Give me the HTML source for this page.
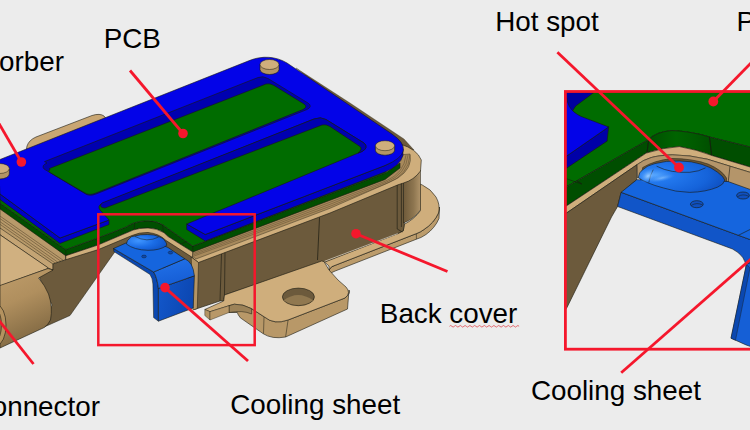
<!DOCTYPE html>
<html><head><meta charset="utf-8"><title>Cooling sheet</title>
<style>
html,body{margin:0;padding:0;background:#ececec;}
body{width:750px;height:430px;overflow:hidden;}
svg{display:block;}
text{font-family:"Liberation Sans", Arial, sans-serif;font-size:27.8px;fill:#000;}
</style></head><body>
<svg width="750" height="430" viewBox="0 0 750 430">
<rect width="750" height="430" fill="#ececec"/>
<g id="main">
<path d="M26,152 L27,146 Q29,140 36,137 L92,115.5 Q100,113 104,116 L108,121 L60,145 Z" fill="#c9a673" stroke="#1a1a10" stroke-width="0.6" stroke-linejoin="round" />
<path d="M296,68 L350,103 L404,139 L414,150 L402,152 Z" fill="#6c5a3c" stroke="#1a1a10" stroke-width="0.3" stroke-linejoin="round" />
<path d="M0,205 L65.8,255.7 L65.8,259.7 L53,264 L53,270 L48,268 L0,234.8 Z" fill="#b89a6a" stroke="#1a1a10" stroke-width="0.5" stroke-linejoin="round" />
<path d="M0,216.1 L63.5,260.5" stroke="#5e4c30" stroke-width="0.6" fill="none"/>
<path d="M0,218.6 L61,261.3" stroke="#5e4c30" stroke-width="0.6" fill="none"/>
<path d="M0,221.7 L58,262.3" stroke="#5e4c30" stroke-width="0.6" fill="none"/>
<path d="M0,224.3 L55.5,263.2" stroke="#5e4c30" stroke-width="0.6" fill="none"/>
<path d="M0,228 L53,264 L53,270 L48,268 L0,234.8 Z" fill="#c4a474" stroke="#1a1a10" stroke-width="0.5" stroke-linejoin="round" />
<path d="M0,234.8 L48,267.7 L48,268.5 L0,286 Z" fill="#d0b080" stroke="#1a1a10" stroke-width="0.6" stroke-linejoin="round" />
<path d="M39.3,277.3 L48,270.5 L53,270 L53,264 L65.8,259.7 L65.8,255.7 L98.7,246.7 L124.7,235.3 L135,231 L160,233 L192.5,256 L193,280 L150,262 L113.5,248.5 L115.5,250.9 L70,315.5 L44.2,327 L52,305 Z" fill="#6c5a3c" stroke="#1a1a10" stroke-width="0.5" stroke-linejoin="round" />
<defs><linearGradient id="cyl" x1="0" y1="0" x2="0.3" y2="1"><stop offset="0" stop-color="#bf9d6b"/><stop offset="0.45" stop-color="#b08f5e"/><stop offset="1" stop-color="#806842"/></linearGradient></defs>
<path d="M0,285.5 L48,268.5 L53,270 L38.6,278 Q45,285.5 48.5,294 Q53,307 50.5,320 Q48,325 44.2,327.5 L0,348 Z" fill="url(#cyl)" stroke="#1a1a10" stroke-width="0.6" stroke-linejoin="round" />
<ellipse cx="-3" cy="325" rx="9" ry="20" fill="#b4925f" stroke="#1a1a10" stroke-width="0.6"/>
<ellipse cx="-4" cy="325" rx="5.5" ry="15" fill="#8c7048" stroke="#1a1a10" stroke-width="0.5"/>
<defs><linearGradient id="col" x1="0" y1="0" x2="1" y2="0"><stop offset="0" stop-color="#6e5a3a"/><stop offset="0.6" stop-color="#8e7650"/><stop offset="1" stop-color="#b0946a"/></linearGradient></defs>
<path d="M438.5,213 Q434,223 424,229.5 Q420,232.5 416.4,233.6 L335.2,265.3 Q331,266 329,270 L329,275.5 Q331,272 335.2,271 L416.4,239.2 Q421,238 426,234.5 Q435,228 439,218.5 L439.5,207 Z" fill="#bc9c6c" stroke="#1a1a10" stroke-width="0.6" stroke-linejoin="round" />
<path d="M416.4,233.6 L416.4,239.2" stroke="#1a1a10" stroke-width="0.5"/>
<path d="M420,184 L422.3,185 Q431,189 436,197 Q440.5,205 438.5,213 Q434,223 424,229.5 Q420,232.5 416.4,233.6 L335.2,265.3 Q331,266 329,270 L329,266 L324,261.6 L397.7,233.6 L403.3,230.8 L404.3,224.3 Q414.5,219 420.1,211 Z" fill="#cfae7c" stroke="#1a1a10" stroke-width="0.6" stroke-linejoin="round" />
<path d="M193,258 L398,184 L403.5,182 L404.3,224.3 L403.3,230.8 L397.7,233.6 L325,262 L224.5,295 L223.7,301 L220,301 L194.5,309.5 Z" fill="#6c5a3c" stroke="#1a1a10" stroke-width="0.6" stroke-linejoin="round" />
<path d="M324.5,261.3 L397.7,233.6" stroke="#e8e0d0" stroke-width="0.7" fill="none"/>
<path d="M403.5,182 Q414,180 420.5,170 L420.5,210 Q414,219 403.5,223 Z" fill="url(#col)" stroke="#1a1a10" stroke-width="0.5" stroke-linejoin="round" />
<path d="M192.8,250 L385,175 Q396,168 398,155 L400,144 Q417,149 421.3,160 L420.5,171 Q414,180 403.5,183 L398,184.8 L330,213 L198.5,262.5 L191.2,257 Z" fill="#cfae7c" stroke="#1a1a10" stroke-width="0.6" stroke-linejoin="round" />
<path d="M192.8,250 L385,175 Q396,168 398,155 L410,154 Q413,168 398,178 L389,182.5 L330,208.3 L196,259 L192.5,256.5 Z" fill="#a88a5c" stroke="#1a1a10" stroke-width="0.4" stroke-linejoin="round" />
<path d="M193.5,253.4 L330,202.3 L386,180.9 Q404.2,173.2 406.0,155" stroke="#5e4c30" stroke-width="0.5" fill="none"/>
<path d="M193.5,254.8 L330,204.3 L386,182.3 Q406.4,174.4 408.0,155" stroke="#5e4c30" stroke-width="0.5" fill="none"/>
<path d="M193.5,256.2 L330,206.3 L386,183.7 Q408.6,175.6 410.0,155" stroke="#5e4c30" stroke-width="0.5" fill="none"/>
<path d="M319.5,217.5 L317.5,260" stroke="#1a1a10" stroke-width="0.7" fill="none"/>
<path d="M397.2,185 L397.2,229 L402.4,232 M401.4,183.5 L401.4,227" stroke="#1a1a10" stroke-width="0.6" fill="none"/>
<path d="M221.5,254 L220,301 M225,252.7 L224.5,295" stroke="#1a1a10" stroke-width="0.6" fill="none"/>
<path d="M191.2,257 L198.5,262.5 L197.3,308.5 L193,310 Z" fill="#b39464" stroke="#1a1a10" stroke-width="0.5" stroke-linejoin="round" />
<path d="M229,305.7 Q243,304 251.6,308.7 L264.5,317 Q274,325 288,320 L345,298 Q351,293 349,290 L347.5,309 L285.6,337 Q272,339.5 263,333.6 L240.3,317.8 Q237.5,314 237.3,312.5 L229,312.5 Z" fill="#b89868" stroke="#1a1a10" stroke-width="0.6" stroke-linejoin="round" />
<path d="M288,320.5 L285.6,337 M264,317 L263.5,333.6" stroke="#1a1a10" stroke-width="0.5"/>
<path d="M224.5,295 L321.7,261 L324,261.6 L329,270 L338,280 L346,287 Q351.5,293 345,298 L288,320 Q274,325 264.5,317 L251.6,308.7 Q243,304 234.3,304.2 L229,305.7 L210,311.7 L204.8,309.5 L223.7,301 Z" fill="#cfae7c" stroke="#1a1a10" stroke-width="0.6" stroke-linejoin="round" />
<path d="M229,305.7 L234.3,304.2 Q243,304 251.6,308.7 L251.6,314 Q243,310 229,312.5 Z" fill="#9c8258" stroke="#1a1a10" stroke-width="0.5" stroke-linejoin="round" />
<path d="M204.8,309.5 L204.8,315.5 L210,320 L210,311.7 Z" fill="#b39464" stroke="#1a1a10" stroke-width="0.4" stroke-linejoin="round" />
<path d="M210,311.7 L229,305.7 L229,312.5 L210,320 Z" fill="#b89868" stroke="#1a1a10" stroke-width="0.4" stroke-linejoin="round" />
<ellipse cx="298.4" cy="296.9" rx="16" ry="8.8" fill="#6c5a3c" stroke="#1a1a10" stroke-width="0.6"/>
<path d="M283.5,300.5 Q298,289.5 313.3,300.5 Q298,309.5 283.5,300.5Z" fill="#a88c5e" opacity="0.6"/>
<path d="M0,203 L65.8,249.5 L99,237.5 L126,227 Q130,224 134.7,222.7 Q141,220.7 148,220.7 Q157,221 162.7,224.7 L168,228.5 L192.8,246 L385,173 L400,163 L400,168 L385,179.5 L192.8,252 L168,236.5 L164,232.7 Q157,228.3 148,228 Q139,228 133.3,230 L98,245 L65.8,255.7 L0,209 Z" fill="#004e00" stroke="#1a1a10" stroke-width="0.6" stroke-linejoin="round" />
<path d="M0,170 L260,70 L396,150 L396,160 L385,173 L192.8,246 L168,228.5 L162.7,224.7 Q157,221 148,220.7 Q141,220.7 134.7,222.7 Q130,224 126,227 L99,237.5 L65.8,249.5 L0,203 Z" fill="#006c00" stroke="#1a1a10" stroke-width="0.6" stroke-linejoin="round" />
<path d="M134.7,222.7 L134.2,229.8 M162.7,224.7 L163.3,232.2 M192.8,246 L192.8,252 M65.8,249.5 L65.8,255.7" stroke="#1a1a10" stroke-width="0.5"/>
<path d="M186.5,241.5 L180,244.5 L187,249" stroke="#1a1a10" stroke-width="0.5" fill="none"/>
<path d="M65.8,255.7 L98,245 L133.3,230 Q139,228 148,228 Q157,228.3 164,232.7 L168,236.5 L192.8,252 L192.5,257.5 L166,240.5 Q159,233.5 148,232.5 Q139,232.3 132,235.5 L98.5,249.5 L65.8,259.7 Z" fill="#cfae7c" stroke="#1a1a10" stroke-width="0.6" stroke-linejoin="round" />
<path d="M0,194 L60,238 L109,220 L109,224.5 L60,243.5 L0,199.5 Z" fill="#0000c8" stroke="#1a1a10" stroke-width="0.6" stroke-linejoin="round" />
<path d="M186.7,224 L205.3,234.5 L385,165.5 Q400,159 403,149 L403,155.5 Q400,166 385,172 L205.3,241 L186.7,229.5 Z" fill="#0000c8" stroke="#1a1a10" stroke-width="0.6" stroke-linejoin="round" />
<path d="M-2,160.3 L250,60.3 C262,55.5 276,56.3 287,63 L392,134 Q418,152 385,165.5 L205.3,234.5 L186.7,224 L362,151.5 Q369,147 364,143 L326,119.5 Q321,116.5 314,119 L102,203.5 Q97,206 100,210 L109,220 L60,238 L0,194 Z" fill="#0303e8" stroke="#1a1a10" stroke-width="0.6" stroke-linejoin="round" />
<path d="M44.5,161.6 L258,77.5 Q263,75.5 268,78.5 L308,103 Q313,106.5 307,109.5 L96,194 Q89,197 84,193 L44,169 Q41,165.5 47,163 Z" fill="#0000b0" stroke="#1a1a10" stroke-width="0.6" stroke-linejoin="round" />
<path d="M49.5,168.5 L266,84 Q270,83 274,85.5 L304,104 Q308,107 303,109.5 L96,193 Q89,196 84,192.5 L50,172.5 Q47,171 50,170Z" fill="#006c00" stroke="#1a1a10" stroke-width="0.6" stroke-linejoin="round" />
<path d="M102,203 L314,119 Q321,116.5 326,119.5 L364,143 Q369,148 362,151.5 L358,153 Q363,149 360,146.5 L330,126.5 Q326,124 322,125 L105,208 Q98,207.5 102,203Z" fill="#0000b0" stroke="#1a1a10" stroke-width="0.6" stroke-linejoin="round" />
<path d="M260.0,64.5 L260.0,69.5 A9.5,5 0 0 0 279.0,69.5 L279.0,64.5 Z" fill="#b39464" stroke="#1a1a10" stroke-width="0.6" stroke-linejoin="round" />
<ellipse cx="269.5" cy="64.5" rx="9.5" ry="5" fill="#cfae7c" stroke="#1a1a10" stroke-width="0.5"/>
<path d="M375.4,145.7 L375.4,150.2 A9.6,5 0 0 0 394.6,150.2 L394.6,145.7 Z" fill="#b39464" stroke="#1a1a10" stroke-width="0.6" stroke-linejoin="round" />
<ellipse cx="385" cy="145.7" rx="9.6" ry="5" fill="#cfae7c" stroke="#1a1a10" stroke-width="0.5"/>
<path d="M-9.9,168.5 L-9.9,174.0 A9.6,5 0 0 0 9.299999999999999,174.0 L9.299999999999999,168.5 Z" fill="#b39464" stroke="#1a1a10" stroke-width="0.6" stroke-linejoin="round" />
<ellipse cx="-0.3" cy="168.5" rx="9.6" ry="5" fill="#cfae7c" stroke="#1a1a10" stroke-width="0.5"/>
<defs><linearGradient id="csv" x1="0" y1="0" x2="1" y2="0.3"><stop offset="0" stop-color="#1358cc"/><stop offset="1" stop-color="#0c47b2"/></linearGradient>
<linearGradient id="csb" x1="0" y1="0" x2="0.3" y2="1"><stop offset="0" stop-color="#2273ea"/><stop offset="1" stop-color="#155cd4"/></linearGradient>
<radialGradient id="dome" cx="0.3" cy="0.4" r="0.8"><stop offset="0" stop-color="#3f95ff"/><stop offset="0.5" stop-color="#1a6ce6"/><stop offset="1" stop-color="#0e50c2"/></radialGradient></defs>
<path d="M113.5,248.5 L113.8,251.5 L150,274.5 Q152.5,278 152.9,284 L153.6,317.6 L158.4,321.2 L158.4,288.5 Q157,277 153.6,272 Z" fill="#0b48b0" stroke="#1a1a10" stroke-width="0.5" stroke-linejoin="round" />
<path d="M158.4,288.5 L194.4,275.8 L193.2,308 L158.4,321.2 Z" fill="url(#csv)" stroke="#1a1a10" stroke-width="0.6" stroke-linejoin="round" />
<path d="M153.6,272 L184.8,258.8 Q193,262 194.4,275.8 L158.4,288.5 Q157,277 153.6,272 Z" fill="url(#csb)" stroke="#1a1a10" stroke-width="0.6" stroke-linejoin="round" />
<path d="M113.5,248.5 L126,243 L150,240 L168,247.5 L184.8,258.8 L153.6,272 Z" fill="#1565de" stroke="#1a1a10" stroke-width="0.6" stroke-linejoin="round" />
<path d="M126.4,244 Q127,240 129.5,238.5 Q131,236 134.7,236 Q140,234.3 147.3,234.5 Q155,234.5 158.7,236.5 Q164,238 165,241 Q167,243 166.7,245.5 Q160,250.5 148,250.3 Q134,250 126.4,244 Z" fill="url(#dome)" stroke="#1a1a10" stroke-width="0.6" stroke-linejoin="round" />
<path d="M134.7,236.3 Q147,243 158.7,237" stroke="#1a1a10" stroke-width="0.5" fill="none"/>
<ellipse cx="144" cy="256.5" rx="2.3" ry="1.4" fill="#0b48b0" stroke="#1a1a10" stroke-width="0.4"/>
<ellipse cx="170.5" cy="252.6" rx="2.3" ry="1.4" fill="#0b48b0" stroke="#1a1a10" stroke-width="0.4"/>
</g>
<rect x="98.3" y="214.3" width="156.4" height="130.8" fill="none" stroke="#f5172c" stroke-width="2.5"/>
<line x1="130" y1="70.5" x2="183" y2="133.5" stroke="#f5172c" stroke-width="2.8"/>
<circle cx="183" cy="133.5" r="4.8" fill="#f5172c"/>
<line x1="-3" y1="120" x2="21.4" y2="162" stroke="#f5172c" stroke-width="2.8"/>
<circle cx="21.4" cy="162" r="4.8" fill="#f5172c"/>
<line x1="248" y1="361" x2="165" y2="287.6" stroke="#f5172c" stroke-width="2.8"/>
<circle cx="165" cy="287.6" r="4.8" fill="#f5172c"/>
<line x1="447.5" y1="271.5" x2="356" y2="233.7" stroke="#f5172c" stroke-width="2.8"/>
<circle cx="356" cy="233.7" r="4.8" fill="#f5172c"/>
<line x1="33.5" y1="364" x2="-3" y2="318" stroke="#f5172c" stroke-width="2.8"/>
<defs><clipPath id="rc"><rect x="565.4" y="91.5" width="200" height="257.7"/></clipPath></defs>
<g clip-path="url(#rc)">
<path d="M560,85 L760,85 L760,150 L750,147 L709.5,137 Q692,131.5 671.5,130.6 Q656,132 648.7,139.5 L560,190.5 Z" fill="#006c00" stroke="#1a1a10" stroke-width="0.6" stroke-linejoin="round" />
<path d="M560,190.5 L648.7,139.5 Q656,132 671.5,130.6 Q692,131.5 709.5,137 L760,149.5 L760,170 L750,167 L712.5,155.7 Q697,149.6 679.3,146.6 Q663.6,147.5 646.2,153.1 L560,210.2 Z" fill="#004e00" stroke="#1a1a10" stroke-width="0.6" stroke-linejoin="round" />
<defs><linearGradient id="pg" x1="0" y1="0" x2="1" y2="0"><stop offset="0" stop-color="#004e00"/><stop offset="0.45" stop-color="#006400"/><stop offset="0.75" stop-color="#005a00"/><stop offset="1" stop-color="#004e00"/></linearGradient></defs>
<path d="M648.7,139.5 Q656,132 671.5,130.6 Q692,131.5 709.5,137 L711.8,155.5 Q697,149.6 679.3,146.6 Q663.6,147.5 647,152.8 Z" fill="url(#pg)" stroke="#1a1a10" stroke-width="0.5" stroke-linejoin="round" />
<path d="M648.7,139.5 L647,152.5 M709.5,137 L711.5,155.3 M566,178.6 L581.8,184 L577,180.5" stroke="#1a1a10" stroke-width="0.6" fill="none"/>
<path d="M560,210.2 L646.2,153.1 Q663.6,147.5 679.3,146.6 Q697,149.6 712.5,155.7 L760,170 L760,176 L750,172.3 L730,166.2 L707.3,159.2 Q690,155 672.4,154.8 Q658,155.5 651.4,157.5 Q643,160 636.8,164.8 L560,217.5 Z" fill="#cfae7c" stroke="#1a1a10" stroke-width="0.6" stroke-linejoin="round" />
<path d="M636.8,164.8 Q643,160 651.4,157.5 Q658,155.5 672.4,154.8 Q690,155 707.3,159.2 L730,166.2 L750,172.3 L760,176 L760,195 L728,182 L637.5,178 Z" fill="#b4956a" stroke="#1a1a10" stroke-width="0.5" stroke-linejoin="round" />
<path d="M642.7,167.5 Q654,160.5 672,158.5 Q692,158.5 708,164 Q722,170 726.5,178 L726.5,184 L640,182 Z" fill="#6b5636" stroke="#1a1a10" stroke-width="0.5" stroke-linejoin="round" />
<path d="M730,166.2 L728.2,182" stroke="#1a1a10" stroke-width="0.6" fill="none"/>
<path d="M560,217.5 L636.8,164.8 L636.8,179.7 L621.1,192.8 L617.6,206.5 L611.5,217 L567,307.5 L560,318 Z" fill="#6c5a3c" stroke="#1a1a10" stroke-width="0.6" stroke-linejoin="round" />
<path d="M621.1,192.3 L738.4,235.3 L760,243 L760,270 L746.5,270 Q746.5,256 732.5,249 L617.6,206.5 Z" fill="#1155c8" stroke="#1a1a10" stroke-width="0.6" stroke-linejoin="round" />
<path d="M746.5,264 L760,260 L760,350 L746,344.9 L731,338.2 Z" fill="#155fd6" stroke="#1a1a10" stroke-width="0.6" stroke-linejoin="round" />
<path d="M746.5,264 L731,338.2 L735.5,340.3 L750,268 Z" fill="#0b48b0" stroke="#1a1a10" stroke-width="0.4" stroke-linejoin="round" />
<path d="M621.1,192.3 L636.8,179.7 L728,181.5 L760,193 L760,243.2 L738.4,235.3 Z" fill="#1565de" stroke="#1a1a10" stroke-width="0.6" stroke-linejoin="round" />
<path d="M738.4,235.3 L752,228.5" stroke="#1a1a10" stroke-width="0.6" fill="none"/>
<defs><radialGradient id="dome2" cx="0.18" cy="0.45" r="0.9"><stop offset="0" stop-color="#58a8ff"/><stop offset="0.25" stop-color="#2278ee"/><stop offset="0.7" stop-color="#1563da"/><stop offset="1" stop-color="#0d4cbc"/></radialGradient></defs>
<path d="M638.3,177.5 Q639,172 642.7,169.7 Q647,165.5 654.9,163.6 Q666,160.5 679.3,160.9 Q692,161 702,164.4 Q712,167.5 717.7,172.3 Q724,177 724.7,180.1 Q724,184.5 717.7,187.1 Q706,192 689.8,192.4 Q675,192 663.6,188 Q654,185.5 647.9,182.8 Q641,180 638.3,177.5 Z" fill="url(#dome2)" stroke="#1a1a10" stroke-width="0.6" stroke-linejoin="round" />
<path d="M656.6,166.2 Q664,170 672.4,171.4 Q681,172.8 689.8,172.3 Q699,171.5 705.5,167.9 M653.2,169.7 Q650,175 648.8,182.5" stroke="#1a1a10" stroke-width="0.6" fill="none"/>
<defs><radialGradient id="hl" cx="0.5" cy="0.5" r="0.5"><stop offset="0" stop-color="#9fd0ff" stop-opacity="0.95"/><stop offset="1" stop-color="#3a8cf5" stop-opacity="0"/></radialGradient></defs>
<ellipse cx="648" cy="176" rx="9" ry="6" fill="url(#hl)" transform="rotate(-35 648 176)"/>
<ellipse cx="662" cy="178" rx="14" ry="3.5" fill="url(#hl)" opacity="0.6" transform="rotate(-12 662 178)"/>
<ellipse cx="696.8" cy="204.2" rx="6.4" ry="3.5" fill="#0f50c0" stroke="#1a1a10" stroke-width="0.6"/>
<path d="M691.3,205.39999999999998 Q696.8,202.0 702.5999999999999,205.0" stroke="#1a1a10" stroke-width="0.5" fill="none"/>
<ellipse cx="743" cy="195.5" rx="6.4" ry="3.5" fill="#0f50c0" stroke="#1a1a10" stroke-width="0.6"/>
<path d="M737.5,196.7 Q743,193.3 748.8,196.3" stroke="#1a1a10" stroke-width="0.5" fill="none"/>
<path d="M608.6,126.9 L607.1,141.1 L560,172.5 L560,160.5 Z" fill="#0000a8" stroke="#1a1a10" stroke-width="0.6" stroke-linejoin="round" />
<path d="M560,92 L593.5,92.7 L575.7,106 L572.6,110.8 L560,112 Z" fill="#0000a0" stroke="#1a1a10" stroke-width="0.6" stroke-linejoin="round" />
<path d="M560,97.5 L566.7,98 Q567.5,103 569.4,106.5 Q571,109.5 574,112 Q577,114.5 581,116.4 L589.3,119.6 L608.6,126.9 L560,160.7 Z" fill="#0303e8" stroke="#1a1a10" stroke-width="0.6" stroke-linejoin="round" />
</g>
<rect x="565.4" y="91.5" width="200" height="257.7" fill="none" stroke="#f5172c" stroke-width="2.8"/>
<line x1="557.4" y1="52.2" x2="679" y2="167.5" stroke="#f5172c" stroke-width="2.8"/>
<circle cx="679" cy="167.5" r="4.9" fill="#f5172c"/>
<line x1="752" y1="62" x2="713.3" y2="101.5" stroke="#f5172c" stroke-width="2.8"/>
<circle cx="713.3" cy="101.5" r="4.9" fill="#f5172c"/>
<line x1="621.2" y1="372.8" x2="752" y2="258.2" stroke="#f5172c" stroke-width="2.8"/>
<g><text x="64.0" y="70.8" text-anchor="end">Absorber</text>
<text x="132.3" y="48.1" text-anchor="middle">PCB</text>
<text x="99.9" y="415.5" text-anchor="end">Connector</text>
<text x="315.2" y="414" text-anchor="middle">Cooling sheet</text>
<text x="448.6" y="323.3" text-anchor="middle">Back cover</text>
<text x="547.0" y="30.6" text-anchor="middle">Hot spot</text>
<text x="736.4" y="30.6" text-anchor="start">PCB</text>
<text x="615.9" y="399.8" text-anchor="middle">Cooling sheet</text></g>
<path d="M449.5,326.3 q1.2,-1.6 2.4,0 t2.4,0 t2.4,0 t2.4,0 t2.4,0 t2.4,0 t2.4,0 t2.4,0 t2.4,0 t2.4,0 t2.4,0 t2.4,0 t2.4,0 t2.4,0 t2.4,0 t2.4,0 t2.4,0 t2.4,0 t2.4,0 t2.4,0 t2.4,0 t2.4,0 t2.4,0 t2.4,0 t2.4,0 t2.4,0 t2.4,0 t2.4,0 t2.4,0" fill="none" stroke="#e0303a" stroke-width="0.7"/>
</svg>
</body></html>
